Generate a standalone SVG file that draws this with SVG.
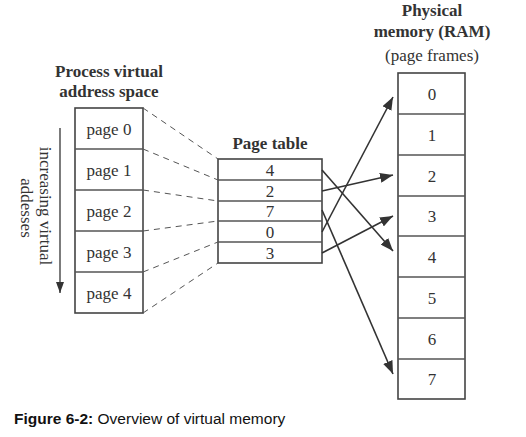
<svg xmlns="http://www.w3.org/2000/svg" width="526" height="437" viewBox="0 0 526 437">
<style>
  .t { font-family: "Liberation Serif", "Times New Roman", serif; font-size: 17px; fill: #333; text-anchor: middle; }
  .b { font-weight: bold; }
  .box { fill: #fff; stroke: #444; stroke-width: 1.6; }
  .div { stroke: #555; stroke-width: 1.3; }
  .dash { stroke: #555; stroke-width: 1; stroke-dasharray: 6 5; fill: none; }
  .arr { stroke: #333; stroke-width: 1.6; fill: none; marker-end: url(#ah); }
  .cap { font-family: "Liberation Sans", Arial, sans-serif; font-size: 15.5px; fill: #111; }
</style>
<defs>
  <marker id="ah" markerUnits="userSpaceOnUse" markerWidth="14" markerHeight="10" refX="13" refY="5" orient="auto">
    <path d="M0,0 L13,5 L0,10 Z" fill="#333"/>
  </marker>
  <marker id="ah2" markerUnits="userSpaceOnUse" markerWidth="12" markerHeight="8" refX="11" refY="4" orient="auto">
    <path d="M0,0 L11,4 L0,8 Z" fill="#333"/>
  </marker>
</defs>
<rect width="526" height="437" fill="#fff"/>

<g id="virtual-space">
  <text class="t b" x="109" y="77">Process virtual</text>
  <text class="t b" x="109" y="97">address space</text>
  <rect class="box" x="75" y="108" width="68" height="205"/>
  <line class="div" x1="75" y1="149" x2="143" y2="149"/>
  <line class="div" x1="75" y1="190" x2="143" y2="190"/>
  <line class="div" x1="75" y1="231" x2="143" y2="231"/>
  <line class="div" x1="75" y1="272" x2="143" y2="272"/>
  <text class="t" x="109" y="135">page 0</text>
  <text class="t" x="109" y="176">page 1</text>
  <text class="t" x="109" y="217">page 2</text>
  <text class="t" x="109" y="258">page 3</text>
  <text class="t" x="109" y="299">page 4</text>
</g>

<g id="direction">
  <line x1="60" y1="128" x2="60" y2="293" stroke="#444" stroke-width="1.4" marker-end="url(#ah2)"/>
  <text class="t" transform="translate(40,206) rotate(90)">increasing virtual</text>
  <text class="t" transform="translate(21,208) rotate(90)">addesses</text>
</g>

<g id="page-table">
  <text class="t b" x="270" y="149">Page table</text>
  <rect class="box" x="218" y="159" width="104" height="104"/>
  <line class="div" x1="218" y1="180" x2="322" y2="180"/>
  <line class="div" x1="218" y1="201" x2="322" y2="201"/>
  <line class="div" x1="218" y1="221" x2="322" y2="221"/>
  <line class="div" x1="218" y1="242" x2="322" y2="242"/>
  <text class="t" x="270" y="175.5">4</text>
  <text class="t" x="270" y="196.5">2</text>
  <text class="t" x="270" y="217">7</text>
  <text class="t" x="270" y="237.5">0</text>
  <text class="t" x="270" y="258.5">3</text>
</g>

<g id="physical-memory">
  <text class="t b" x="432" y="16">Physical</text>
  <text class="t b" x="432" y="37">memory (RAM)</text>
  <text class="t" x="432" y="61">(page frames)</text>
  <rect class="box" x="398" y="73" width="67" height="326"/>
  <line class="div" x1="398" y1="114" x2="465" y2="114"/>
  <line class="div" x1="398" y1="155" x2="465" y2="155"/>
  <line class="div" x1="398" y1="196" x2="465" y2="196"/>
  <line class="div" x1="398" y1="236" x2="465" y2="236"/>
  <line class="div" x1="398" y1="277" x2="465" y2="277"/>
  <line class="div" x1="398" y1="318" x2="465" y2="318"/>
  <line class="div" x1="398" y1="359" x2="465" y2="359"/>
  <text class="t" x="432" y="99.5">0</text>
  <text class="t" x="432" y="140.5">1</text>
  <text class="t" x="432" y="181.5">2</text>
  <text class="t" x="432" y="222">3</text>
  <text class="t" x="432" y="262.5">4</text>
  <text class="t" x="432" y="303.5">5</text>
  <text class="t" x="432" y="344.5">6</text>
  <text class="t" x="432" y="385">7</text>
</g>

<g id="connectors">
  <line class="dash" x1="143" y1="108" x2="218" y2="159"/>
  <line class="dash" x1="143" y1="149" x2="218" y2="180"/>
  <line class="dash" x1="143" y1="190" x2="218" y2="201"/>
  <line class="dash" x1="143" y1="231" x2="218" y2="221"/>
  <line class="dash" x1="143" y1="272" x2="218" y2="242"/>
  <line class="dash" x1="143" y1="313" x2="218" y2="263"/>
  <line class="arr" x1="322" y1="170" x2="393" y2="251"/>
  <line class="arr" x1="322" y1="191" x2="393" y2="175"/>
  <line class="arr" x1="322" y1="210" x2="393" y2="374"/>
  <line class="arr" x1="322" y1="232" x2="393" y2="97"/>
  <line class="arr" x1="322" y1="253" x2="393" y2="216"/>
</g>

<g id="caption">
  <text class="cap" x="14" y="424"><tspan font-weight="bold">Figure 6-2:</tspan> Overview of virtual memory</text>
</g>
</svg>
